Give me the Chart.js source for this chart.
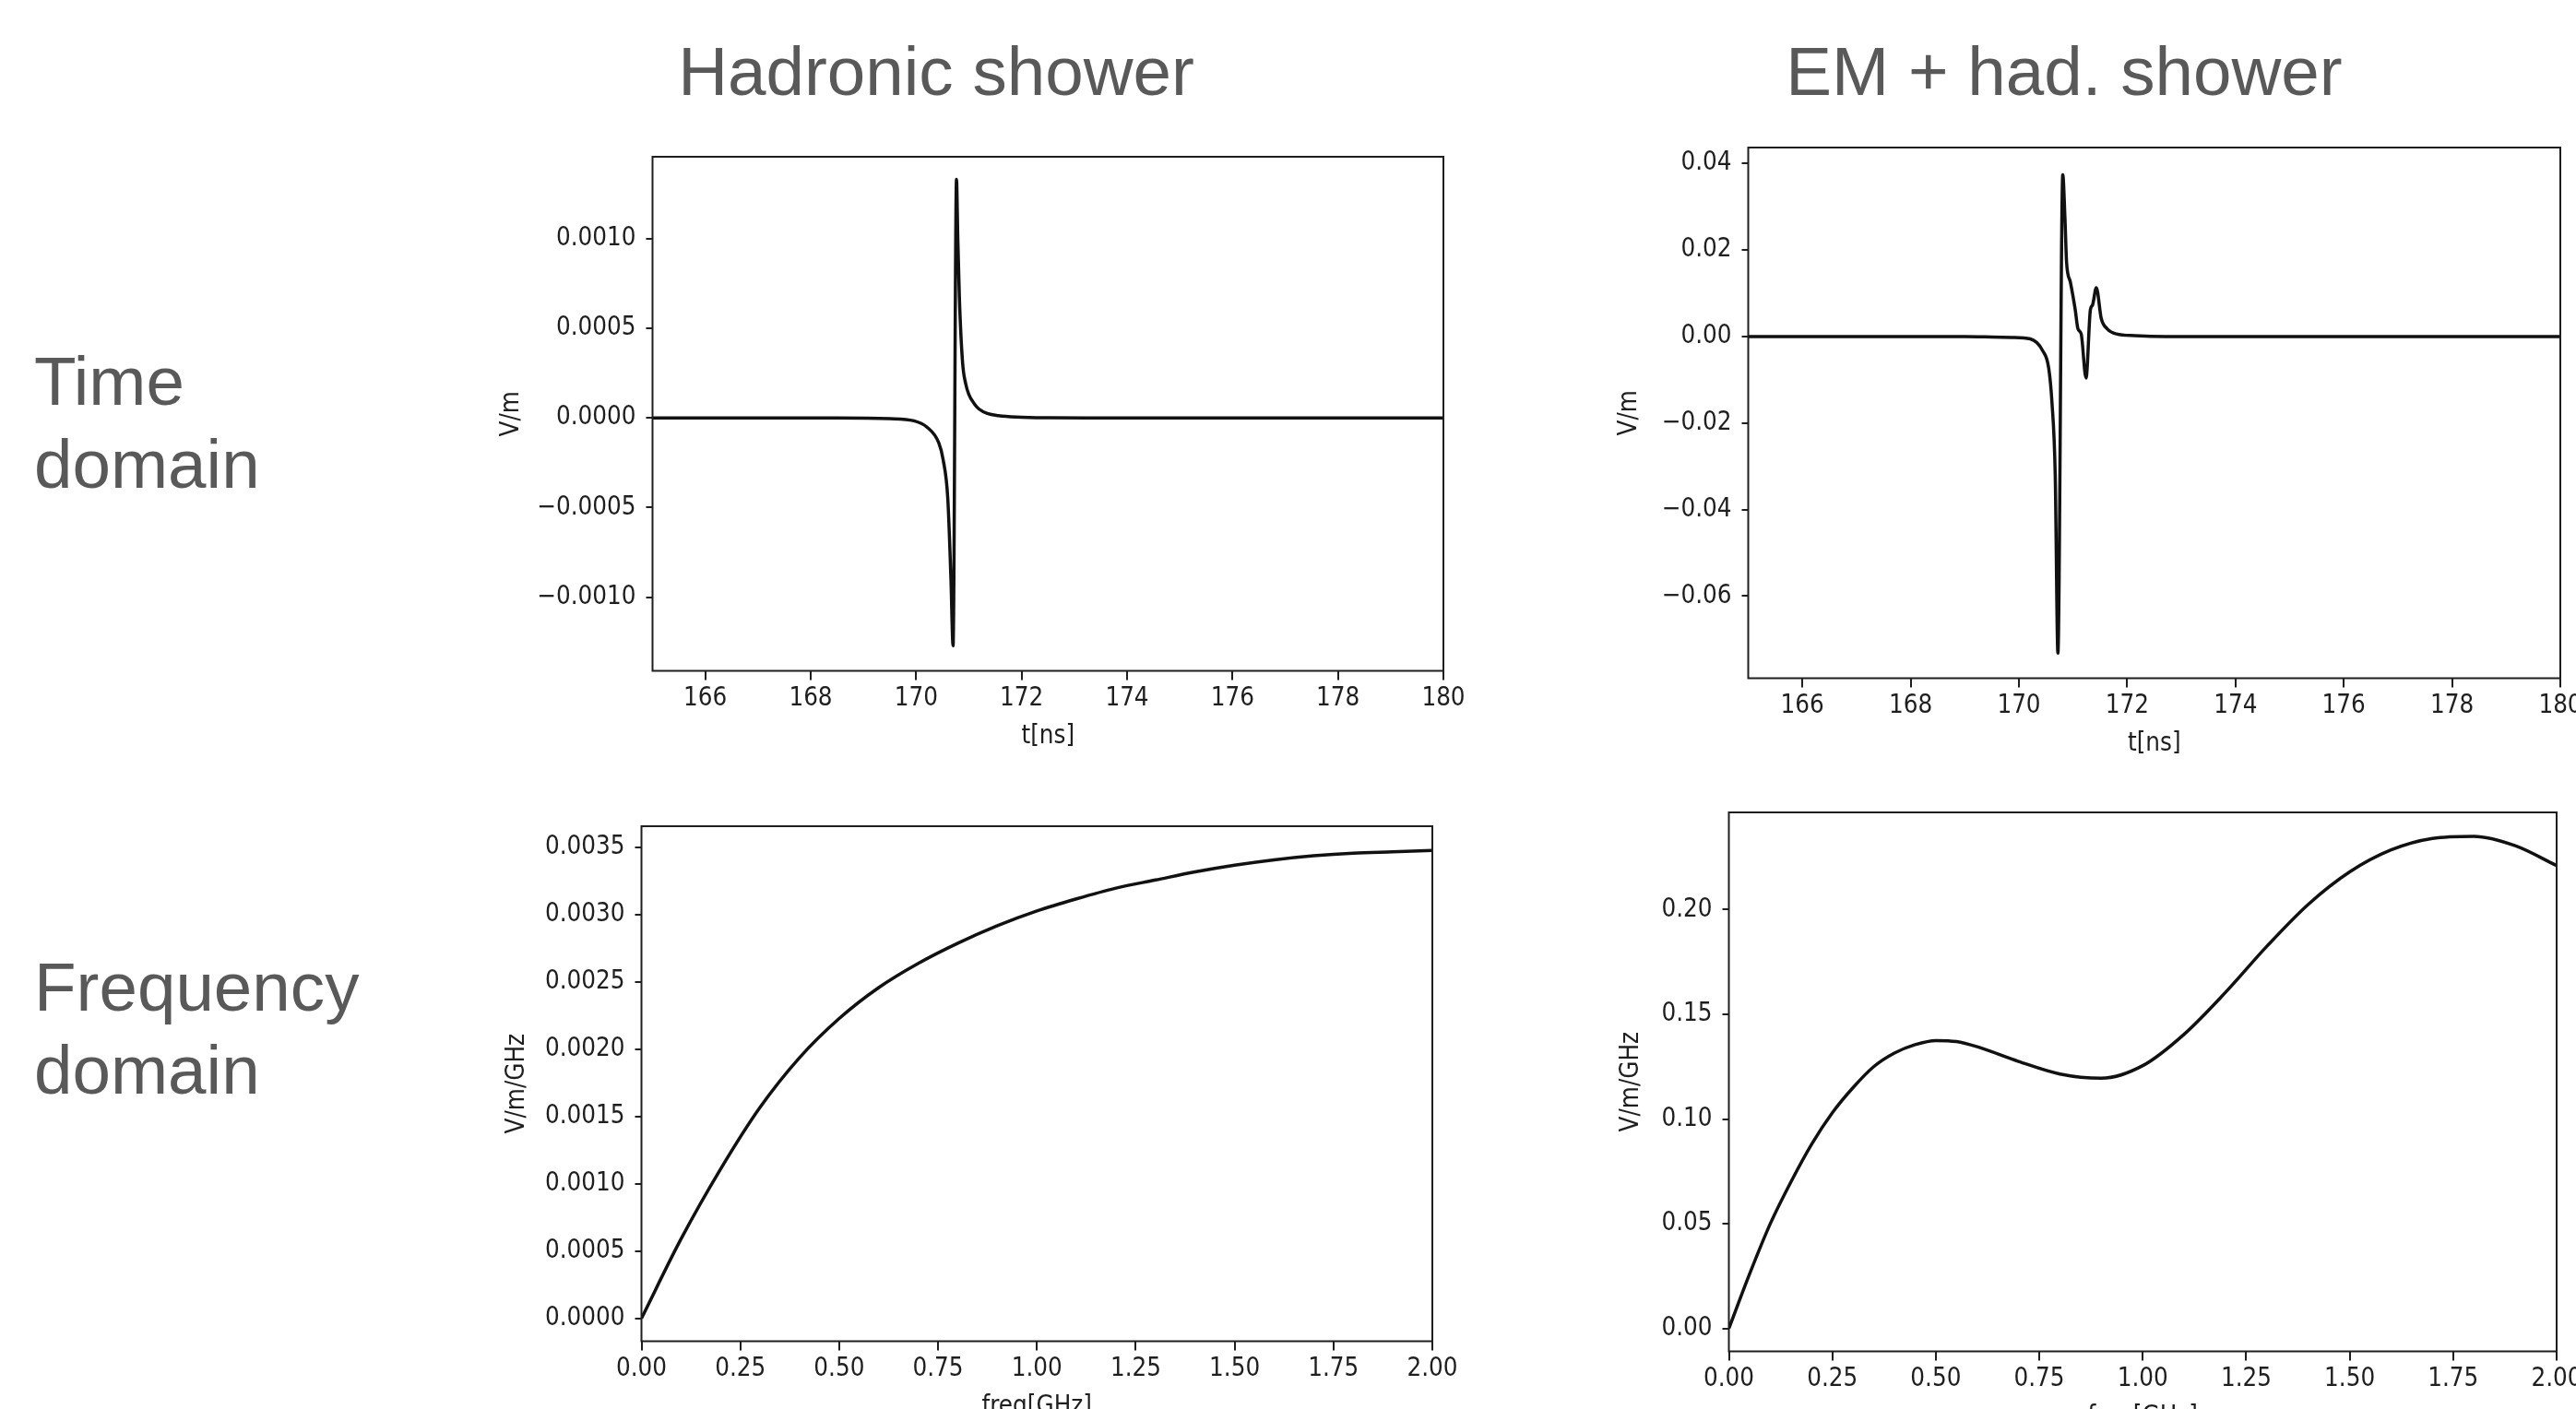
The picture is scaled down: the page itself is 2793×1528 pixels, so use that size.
<!DOCTYPE html>
<html>
<head>
<meta charset="utf-8">
<script src="https://cdn.jsdelivr.net/npm/chart.js@4/dist/chart.umd.min.js"></script>
<style>
  html, body { margin: 0; padding: 0; background: #fff; }
  body { width: 2793px; height: 1528px; position: relative; overflow: hidden; }
  .lbl { position: absolute; font-family: "Liberation Sans", Arial, sans-serif; font-size: 74.6px; line-height: 90px; color: #595959; white-space: nowrap; }
  .col { text-align: center; width: 1000px; }
  canvas { position: absolute; }
</style>
</head>
<body>
<div class="lbl col" style="left:515px; top:32px;">Hadronic shower</div>
<div class="lbl col" style="left:1738px; top:32px;">EM + had. shower</div>
<div class="lbl" style="left:37px; top:368px;">Time<br>domain</div>
<div class="lbl" style="left:37px; top:1025px;">Frequency<br>domain</div>

<canvas id="c1"></canvas>
<canvas id="c2"></canvas>
<canvas id="c3"></canvas>
<canvas id="c4"></canvas>

<script>
// ---------- DATA ----------
// Hadronic shower, time domain: t [ns], E [V/m]
const hadTimeT = [165, 168.5, 169.5, 169.96, 170.2, 170.43, 170.51, 170.6, 170.66, 170.70,
                  170.765, 170.79, 170.82, 170.88, 170.94, 171.0, 171.1, 171.19, 171.35, 171.56,
                  171.9, 172.5, 173.5, 180];
const hadTimeV = [0, 0, -0.000004, -0.000016, -0.00005, -0.00014, -0.00023, -0.00045, -0.0009, -0.00127,
                  0.00133, 0.001, 0.00067, 0.00031, 0.00019, 0.00013, 0.00008, 0.00005, 0.000025, 0.000013,
                  0.000005, 0.000001, 0, 0];

// EM + hadronic shower, time domain
const emTimeT = [165, 169.0, 169.5, 169.87, 170.21, 170.44, 170.55, 170.61, 170.67, 170.72,
                 170.81, 170.85, 170.88, 170.95, 171.04, 171.09, 171.15, 171.24, 171.32, 171.36,
                 171.43, 171.52, 171.63, 171.80, 172.14, 172.71, 180];
const emTimeV = [0, 0, -0.0001, -0.0002, -0.00055, -0.0033, -0.0073, -0.0152, -0.0318, -0.0732,
                 0.0374, 0.0275, 0.0172, 0.0126, 0.0062, 0.0018, 0.0006, -0.0096, 0.0062, 0.0073,
                 0.0113, 0.0042, 0.0018, 0.0006, 0.0002, 0, 0];

// Hadronic shower, frequency domain: f [GHz], |E| [V/m/GHz]
const hadFreqF = [0, 0.1, 0.2, 0.3, 0.4, 0.5, 0.6, 0.7, 0.8, 0.9, 1.0,
                  1.1, 1.2, 1.3, 1.4, 1.5, 1.6, 1.7, 1.8, 1.9, 2.0];
const hadFreqV = [0, 0.00059, 0.00111, 0.00157, 0.00194, 0.00223, 0.00246, 0.00264, 0.00279, 0.00292, 0.00303,
                  0.00312, 0.0032, 0.00326, 0.00332, 0.00337, 0.00341, 0.00344, 0.00346, 0.00347, 0.00348];

// EM + hadronic shower, frequency domain
const emFreqF = [0, 0.05, 0.1, 0.15, 0.2, 0.25, 0.3, 0.35, 0.4, 0.45, 0.5, 0.55, 0.6,
                 0.7, 0.8, 0.9, 1.0, 1.1, 1.2, 1.3, 1.4, 1.5, 1.6, 1.7, 1.8, 1.9, 2.0];
const emFreqV = [0, 0.026, 0.05, 0.07, 0.088, 0.103, 0.115, 0.125, 0.1315, 0.1355, 0.1375, 0.137, 0.1345,
                 0.1275, 0.1215, 0.1195, 0.1255, 0.1405, 0.1605, 0.1825, 0.2025, 0.218, 0.2285, 0.234,
                 0.235, 0.2305, 0.221];

// Tick values
const timeTicks = [166, 168, 170, 172, 174, 176, 178, 180];
const freqTicks = [0, 0.25, 0.5, 0.75, 1.0, 1.25, 1.5, 1.75, 2.0];
const hadTimeYTicks = [-0.001, -0.0005, 0, 0.0005, 0.001];
const emTimeYTicks = [-0.06, -0.04, -0.02, 0, 0.02, 0.04];
const hadFreqYTicks = [0, 0.0005, 0.001, 0.0015, 0.002, 0.0025, 0.003, 0.0035];
const emFreqYTicks = [0, 0.05, 0.1, 0.15, 0.2];

// Axis titles
const timeXLabel = 't[ns]';
const freqXLabel = 'freq[GHz]';
const timeYLabel = 'V/m';
const freqYLabel = 'V/m/GHz';

// ---------- RENDERING ----------
const FONT = "'DejaVu Sans Condensed', 'DejaVu Sans', sans-serif";
const FS = 27.5;
const INK = '#1e1e1e';

function fmt(v, d) {
  const s = Math.abs(v).toFixed(d);
  return (v < -1e-12 ? '\u2212' : '') + s;
}

const framePlugin = {
  id: 'frame',
  afterDatasetsDraw(chart) {
    const a = chart.chartArea, ctx = chart.ctx;
    ctx.save();
    ctx.strokeStyle = INK;
    ctx.lineWidth = 2;
    ctx.strokeRect(a.left, a.top, a.right - a.left, a.bottom - a.top);
    ctx.restore();
  }
};

function makeChart(id, g, xs, ys, xr, yr, xTicks, yTicks, xDec, yDec, xTitle, yTitle) {
  const PT = 40, PR = 45;
  const lh = FS * 1.2;
  const canvasLeft = g.ytc - lh / 2 - 2;
  const yW = g.L - canvasLeft;
  const canvasBottom = g.xtc + lh / 2 + 2;
  const xH = canvasBottom - g.B;
  const canvasTop = g.T - PT;
  const W = Math.round(g.R - canvasLeft + PR);
  const H = Math.round(canvasBottom - canvasTop);
  const cv = document.getElementById(id);
  cv.width = W; cv.height = H;
  cv.style.left = canvasLeft + 'px';
  cv.style.top = canvasTop + 'px';
  cv.style.width = W + 'px';
  cv.style.height = H + 'px';

  const data = xs.map((x, i) => ({ x: x, y: ys[i] }));
  return new Chart(cv, {
    type: 'line',
    data: { datasets: [{
      data: data,
      borderColor: '#111',
      borderWidth: 3.5,
      pointRadius: 0,
      fill: false,
      cubicInterpolationMode: 'monotone'
    }]},
    options: {
      responsive: false,
      animation: false,
      devicePixelRatio: 1,
      layout: { padding: { top: PT, right: PR, left: 0, bottom: 0 } },
      plugins: { legend: { display: false }, tooltip: { enabled: false }, title: { display: false } },
      scales: {
        x: {
          type: 'linear',
          min: xr[0], max: xr[1],
          border: { display: false },
          grid: { display: true, drawOnChartArea: false, drawTicks: true, tickLength: 10, tickColor: INK, lineWidth: 2 },
          ticks: { autoSkip: false, maxRotation: 0, padding: 4, color: INK,
                   font: { family: FONT, size: FS },
                   callback: (v) => fmt(v, xDec) },
          afterBuildTicks: (s) => { s.ticks = xTicks.map(v => ({ value: v })); },
          afterFit: (s) => { s.height = xH; },
          title: { display: true, text: xTitle, color: INK, font: { family: FONT, size: FS },
                   padding: { top: 0, bottom: 2 } }
        },
        y: {
          type: 'linear',
          min: yr[0], max: yr[1],
          border: { display: false },
          grid: { display: true, drawOnChartArea: false, drawTicks: true, tickLength: 7, tickColor: INK, lineWidth: 2 },
          ticks: { autoSkip: false, padding: 11, color: INK,
                   font: { family: FONT, size: FS },
                   callback: (v) => fmt(v, yDec) },
          afterBuildTicks: (s) => { s.ticks = yTicks.map(v => ({ value: v })); },
          afterFit: (s) => { s.width = yW; },
          title: { display: true, text: yTitle, color: INK, font: { family: FONT, size: FS },
                   padding: { top: 2, bottom: 0 } }
        }
      }
    },
    plugins: [framePlugin]
  });
}

makeChart('c1', { L: 707, T: 170, R: 1564, B: 727, ytc: 554, xtc: 798 },
  hadTimeT, hadTimeV, [165, 180], [-0.00141, 0.001456], timeTicks, hadTimeYTicks, 0, 4, timeXLabel, timeYLabel);
makeChart('c2', { L: 1895, T: 160, R: 2775, B: 735, ytc: 1766, xtc: 806 },
  emTimeT, emTimeV, [165, 180], [-0.079, 0.0437], timeTicks, emTimeYTicks, 0, 2, timeXLabel, timeYLabel);
makeChart('c3', { L: 695, T: 896, R: 1552, B: 1454, ytc: 560, xtc: 1525 },
  hadFreqF, hadFreqV, [0, 2], [-0.00017, 0.00366], freqTicks, hadFreqYTicks, 2, 4, freqXLabel, freqYLabel);
makeChart('c4', { L: 1874, T: 881, R: 2771, B: 1465, ytc: 1768, xtc: 1536 },
  emFreqF, emFreqV, [0, 2], [-0.0109, 0.2464], freqTicks, emFreqYTicks, 2, 2, freqXLabel, freqYLabel);
</script>
</body>
</html>
